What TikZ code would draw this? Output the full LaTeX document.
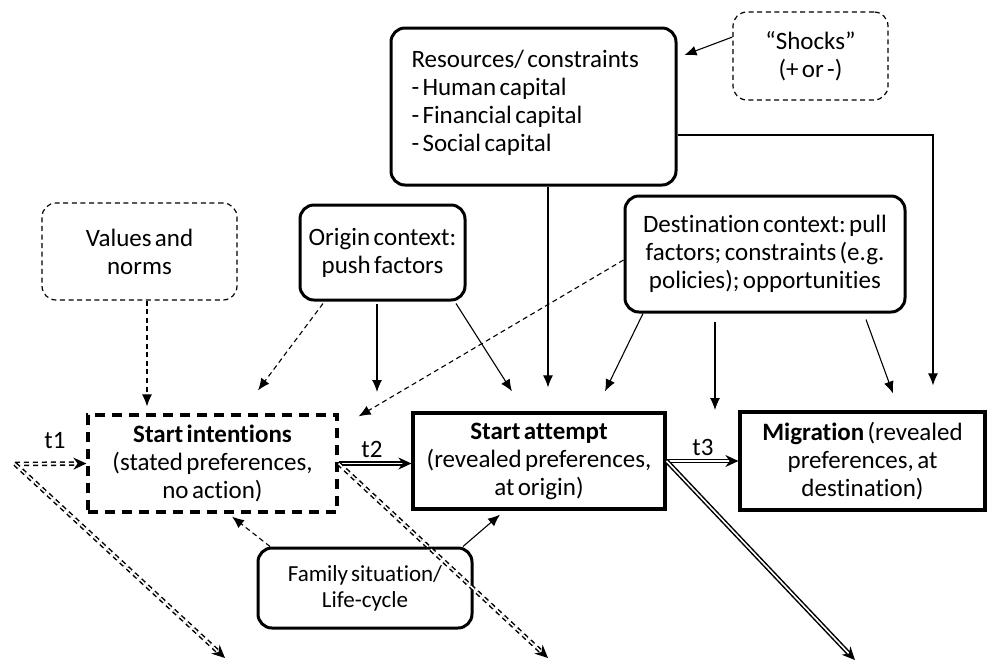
\documentclass[tikz,border=0pt]{standalone}
\usepackage{fontspec}
\setmainfont{Carlito}[Ligatures=NoCommon, WordSpace=0.6]
\usetikzlibrary{arrows.meta,calc}
\frenchspacing

\begin{document}
\begin{tikzpicture}[x=0.5pt, y=-0.5pt,
	font=\fontsize{12.5}{14}\selectfont,
	rbox/.style={draw, line width=1.5pt, rounded corners=7pt, align=center, inner sep=0pt},
	dbox/.style={draw, line width=0.6pt, dash pattern=on 2.5pt off 1.8pt, rounded corners=7pt, align=center, inner sep=0pt},
	sbox/.style={draw, line width=1.6pt, align=center, inner sep=0pt},
	pfeil/.style={line width=0.55pt, -{Latex[length=6pt, width=5pt]}},
	dpfeil/.style={pfeil, dash pattern=on 2.5pt off 1.8pt},
	trans/.style={double, line width=0.75pt, double distance=0.8pt, -{Stealth[length=6.5pt, width=6pt]}},
	dtrans/.style={trans, dash pattern=on 2.5pt off 2pt}]
	\useasboundingbox (0,0) rectangle (987,661);

	% Einflussfaktoren oben
	\node[rbox, minimum width=142.5pt, minimum height=78.5pt, text width=122pt, align=flush left] (resources) at (533.5,106.5)
		{Resources/ constraints\\- Human capital\\- Financial capital\\- Social capital\\[-8pt]\mbox{}};
	\node[dbox, minimum width=77.5pt, minimum height=44pt] (shocks) at (810.5,56) {“Shocks”\\(+ or -)};
	\node[dbox, minimum width=97.5pt, minimum height=48.5pt] (values) at (139.5,251.5) {Values and\\norms};
	\node[rbox, minimum width=82.5pt, minimum height=47.5pt] (origin) at (382.5,252.5) {Origin context:\\push factors};
	\node[rbox, minimum width=140pt, minimum height=58pt] (dest) at (765,254)
		{Destination context: pull\\factors; constraints (e.g.\\policies); opportunities};

	% Stufen
	\node[sbox, dash pattern=on 5pt off 3.5pt, minimum width=124.5pt, minimum height=48.5pt] (intent) at (212.5,463.5)
		{\textbf{Start intentions}\\(stated preferences,\\no action)};
	\node[sbox, minimum width=126pt, minimum height=48pt] (attempt) at (539,461)
		{\textbf{Start attempt}\\(revealed preferences,\\at origin)};
	\node[sbox, minimum width=122.5pt, minimum height=49pt] (migr) at (862.5,461)
		{\textbf{Migration} (revealed\\preferences, at\\destination)};
	\node[rbox, minimum width=107pt, minimum height=40pt, font=\fontsize{11.5}{13}\selectfont] (family) at (365,588)
		{Family situation/\\Life-cycle};

	% Hilfspunkte
	\coordinate (start) at (15,464);
	\coordinate (onT2) at (377,392);
	\coordinate (onT3) at (715,410);
	\coordinate (exit1) at (225,658);
	\coordinate (exit2) at (548,658);
	\coordinate (exit3) at (855,660);

	% Einflusspfeile
	\draw[pfeil] ($(shocks.west)+(0,-19)$) -- ($(resources.east)+(7,-51.5)$);
	\draw[pfeil] ($(resources.east)+(0,28.5)$) -| ($(migr.north)+(70.5,-25)$);
	\draw[pfeil] ($(resources.south)+(14.5,0)$) -- ($(attempt.north)+(9,-24)$);
	\draw[dpfeil] ($(values.south)+(7.5,0)$) -- ($(intent.north)+(-65.5,-7)$);
	\draw[dpfeil] ($(origin.south)+(-59.5,2)$) -- ($(intent.north)+(45.5,-23)$);
	\draw[pfeil] ($(origin.south)+(-5.5,2)$) -- (onT2);
	\draw[pfeil] ($(origin.south)+(73.5,2)$) -- ($(attempt.north)+(-27,-20)$);
	\draw[dpfeil] ($(dest.west)+(0,6)$) -- ($(intent.north east)+(20,3)$);
	\draw[pfeil] ($(dest.south)+(-122,0)$) -- ($(attempt.north)+(66,-20)$);
	\draw[pfeil] ($(dest.south)+(-50,8)$) -- (onT3);
	\draw[pfeil] ($(dest.south)+(101,6)$) -- ($(migr.north)+(30.5,-17)$);
	\draw[dpfeil] ($(family.north)+(-95,0)$) -- ($(intent.south)+(19.5,3)$);
	\draw[pfeil] ($(family.north)+(98,0)$) -- ($(attempt.south)+(-39,4)$);

	% Uebergaenge
	\draw[dtrans] (start) -- (intent.west);
	\node (t1) at (55,441) {t1};
	\draw[dtrans] (start) -- (exit1);
	\draw[trans] (intent.east) -- (intent.east -| attempt.west);
	\node (t2) at (372,449) {t2};
	\draw[dtrans] (intent.east) -- (exit2);
	\draw[trans] (attempt.east) -- (attempt.east -| migr.west);
	\node (t3) at (703,447) {t3};
	\draw[trans] (attempt.east) -- (exit3);
\end{tikzpicture}
\end{document}
